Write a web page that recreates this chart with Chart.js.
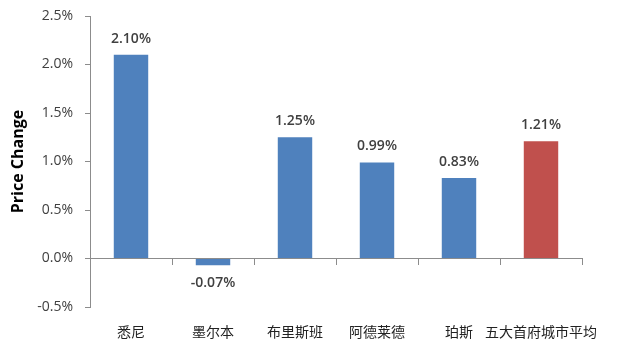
<!DOCTYPE html>
<html><head><meta charset="utf-8">
<script src="https://cdn.jsdelivr.net/npm/chart.js@4/dist/chart.umd.min.js"></script>
<style>html,body{margin:0;padding:0;background:#fff}#wrap{width:642px;height:351px}</style>
</head><body><div id="wrap"><canvas id="c" width="642" height="351"></canvas></div>
<script>
const categories = ['悉尼','墨尔本','布里斯班','阿德莱德','珀斯','五大首府城市平均'];
const priceChange = [2.10, -0.07, 1.25, 0.99, 0.83, 1.21];
const barColors = ['#4F81BD','#4F81BD','#4F81BD','#4F81BD','#4F81BD','#C0504D'];
const yTitle = 'Price Change';

const labelPlugin = {
  id: 'vlabels',
  afterDatasetsDraw(chart) {
    const ctx = chart.ctx;
    const meta = chart.getDatasetMeta(0);
    ctx.save();
    ctx.font = '600 14px "Open Sans", Lato, sans-serif';
    ctx.fillStyle = '#404040';
    ctx.textAlign = 'center';
    ctx.textBaseline = 'middle';
    meta.data.forEach((bar, i) => {
      const v = priceChange[i];
      const y = v >= 0 ? bar.y - 16 : bar.y + 18;
      ctx.fillText(v.toFixed(2) + '%', bar.x, y);
    });
    ctx.restore();
  }
};

new Chart(document.getElementById('c'), {
  type: 'bar',
  data: { labels: categories, datasets: [{ data: priceChange, backgroundColor: barColors, categoryPercentage: 1, barPercentage: 0.42 }] },
  options: {
    responsive: false, animation: false,
    layout: { padding: { top: 16, right: 60, bottom: 44, left: 0 } },
    plugins: { legend: { display: false }, tooltip: { enabled: false } },
    scales: {
      x: {
        position: { y: 0 },
        afterFit(s) { s.paddingLeft = 0; s.paddingRight = 0; },
        grid: { offset: true, drawOnChartArea: false, drawTicks: true, tickLength: 6, color: '#8c8c8c' },
        border: { display: true, color: '#8c8c8c' },
        ticks: { padding: 59, maxRotation: 0, minRotation: 0, autoSkip: false, color: '#222', font: { size: 14, family: '"Noto Sans CJK SC", sans-serif' } }
      },
      y: {
        min: -0.5, max: 2.5,
        afterFit(s) { s.width = 90; s.paddingTop = 0; s.paddingBottom = 0; },
        grid: { display: true, drawOnChartArea: false, tickLength: 5, color: '#8c8c8c' },
        border: { display: true, color: '#8c8c8c' },
        ticks: { stepSize: 0.5, padding: 12, color: '#404040', font: { size: 14, family: '"Open Sans", Lato, sans-serif' }, callback: v => v.toFixed(1) + '%' },
        title: { display: true, text: yTitle, color: '#000', font: { size: 16, weight: 'bold', family: '"Open Sans", Lato, sans-serif' }, padding: { top: 9, bottom: 4 } }
      }
    }
  },
  plugins: [labelPlugin]
});
</script></body></html>
